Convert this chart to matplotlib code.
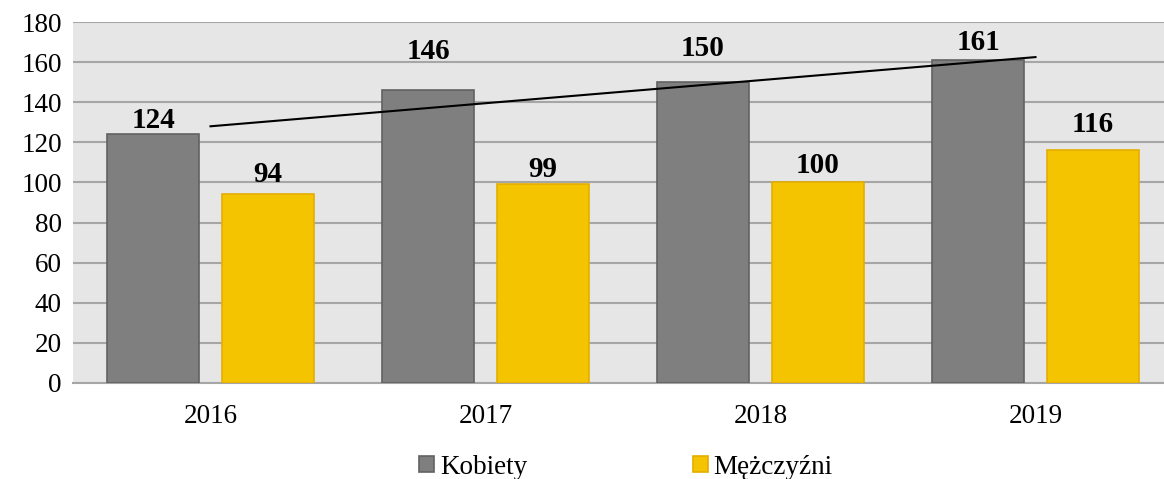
import numpy as np
import matplotlib
matplotlib.use('Agg')
import matplotlib.pyplot as plt

# Chart data
years = ['2016', '2017', '2018', '2019']
kobiety = [124, 146, 150, 161]
mezczyzni = [94, 99, 100, 116]
y_ticks = [0, 20, 40, 60, 80, 100, 120, 140, 160, 180]

# gap (px) between each value label and its bar top, as hand-placed in the original
gap_k = [6, 31, 26, 10]
gap_m = [12, 7, 9, 18]

plt.rcParams['font.family'] = ['Liberation Serif', 'DejaVu Serif']

fig = plt.figure(figsize=(11.64, 4.79), dpi=100)
# axes reaches slightly past the right edge, as in the cropped original
ax = fig.add_axes([73 / 1164, 1 - 383 / 479, 1100 / 1164, 361 / 479])
ax.set_facecolor('#E6E6E6')

x = np.arange(len(years))
w = 0.335
off = 0.209
b1 = ax.bar(x - off, kobiety, w, color='#7F7F7F', edgecolor='#626262', linewidth=1.2,
            label='Kobiety', zorder=3)
b2 = ax.bar(x + off, mezczyzni, w, color='#F5C400', edgecolor='#E4AE00', linewidth=1.2,
            label='Mężczyźni', zorder=3)

for bars, vals, gaps in [(b1, kobiety, gap_k), (b2, mezczyzni, gap_m)]:
    for r, v, g in zip(bars, vals, gaps):
        ax.annotate(str(v), (r.get_x() + r.get_width() / 2, v), xytext=(0, g * 0.72),
                    textcoords='offset points', ha='center', va='baseline',
                    fontsize=21, fontweight='bold', zorder=5)

# linear trend of Kobiety
k, b = np.polyfit(x, kobiety, 1)
ax.plot(x, k * x + b, color='black', linewidth=1.5, zorder=4)

ax.set_xlim(-0.5, 3.5)
ax.set_ylim(0, 180)
ax.set_yticks(y_ticks)
ax.set_xticks(x)
ax.set_xticklabels(years)
ax.tick_params(axis='both', length=0, labelsize=19.5)
ax.tick_params(axis='x', pad=15)
ax.tick_params(axis='y', pad=8)
ax.grid(axis='y', color='#A6A6A6', linewidth=1.5, zorder=1)
for s in ['left', 'right', 'top']:
    ax.spines[s].set_visible(False)
ax.spines['bottom'].set_color('#A6A6A6')
ax.spines['bottom'].set_linewidth(1.5)

fig.legend(loc='center', bbox_to_anchor=(626 / 1164, 12 / 479), ncol=2, frameon=False,
           fontsize=19.5, handlelength=0.55, handleheight=0.55, handletextpad=0.22,
           columnspacing=6.1, borderpad=0)

fig.savefig('out.png', dpi=100)
